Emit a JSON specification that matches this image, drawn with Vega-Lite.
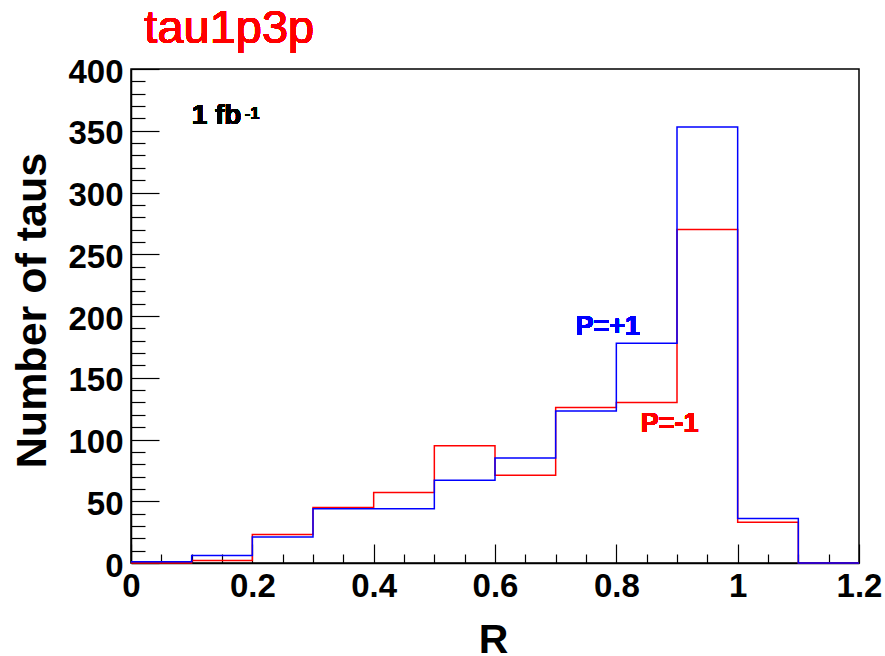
{
  "$schema": "https://vega.github.io/schema/vega-lite/v6.json",
  "width": 728,
  "height": 494,
  "autosize": {"type": "none"},
  "padding": {"left": 131, "top": 69, "right": 26, "bottom": 93},
  "background": "white",
  "config": {
    "font": "Liberation Sans",
    "view": {"stroke": "black", "strokeWidth": 1.5},
    "axis": {"grid": false, "domainColor": "black", "domainWidth": 1.5, "tickColor": "black", "tickWidth": 1.2, "labelColor": "black", "titleColor": "black", "labelFont": "Liberation Sans", "titleFont": "Liberation Sans", "labelFontWeight": "bold", "titleFontWeight": "bold", "labelOverlap": false, "tickCount": 200}
  },
  "datasets": {
    "hist": [
      {"R": 0.0, "n": 0, "s": "P=-1"},
      {"R": 0.1, "n": 2, "s": "P=-1"},
      {"R": 0.2, "n": 23, "s": "P=-1"},
      {"R": 0.3, "n": 45, "s": "P=-1"},
      {"R": 0.4, "n": 57, "s": "P=-1"},
      {"R": 0.5, "n": 95, "s": "P=-1"},
      {"R": 0.6, "n": 71, "s": "P=-1"},
      {"R": 0.7, "n": 126, "s": "P=-1"},
      {"R": 0.8, "n": 130, "s": "P=-1"},
      {"R": 0.9, "n": 270, "s": "P=-1"},
      {"R": 1.0, "n": 33, "s": "P=-1"},
      {"R": 1.1, "n": 0, "s": "P=-1"},
      {"R": 1.2, "n": 0, "s": "P=-1"},
      {"R": 0.0, "n": 1, "s": "P=+1"},
      {"R": 0.1, "n": 6, "s": "P=+1"},
      {"R": 0.2, "n": 21, "s": "P=+1"},
      {"R": 0.3, "n": 44, "s": "P=+1"},
      {"R": 0.4, "n": 44, "s": "P=+1"},
      {"R": 0.5, "n": 67, "s": "P=+1"},
      {"R": 0.6, "n": 85, "s": "P=+1"},
      {"R": 0.7, "n": 123, "s": "P=+1"},
      {"R": 0.8, "n": 178, "s": "P=+1"},
      {"R": 0.9, "n": 353, "s": "P=+1"},
      {"R": 1.0, "n": 36, "s": "P=+1"},
      {"R": 1.1, "n": 0, "s": "P=+1"},
      {"R": 1.2, "n": 0, "s": "P=+1"}
    ]
  },
  "data": {"name": "hist"},
  "layer": [
    {
      "transform": [{"filter": "datum.s == 'P=-1'"}],
      "mark": {"type": "line", "interpolate": "step-after", "color": "#ff0000", "strokeWidth": 1.5},
      "encoding": {
        "x": {"field": "R", "type": "quantitative", "scale": {"domain": [0, 1.2], "nice": false, "zero": false},
          "axis": {"title": "R", "titleFontSize": 41, "titleX": 362, "titleY": 89, "titleBaseline": "alphabetic", "titleAlign": "center",
            "values": [0,0.05,0.1,0.15,0.2,0.25,0.3,0.35,0.4,0.45,0.5,0.55,0.6,0.65,0.7,0.75,0.8,0.85,0.9,0.95,1.0,1.05,1.1,1.15,1.2],
            "tickCount": 200,
            "labelExpr": "abs(datum.value*5 - round(datum.value*5)) < 1e-6 ? format(datum.value, '~g') : ''",
            "labelFontSize": 33, "labelPadding": 26, "labelFlush": false, "labelOverlap": false,
            "tickSize": {"condition": {"test": "abs(datum.value*5 - round(datum.value*5)) < 1e-6", "value": -19}, "value": -9}}},
        "y": {"field": "n", "type": "quantitative", "scale": {"domain": [0, 400], "nice": false},
          "axis": {"title": "Number of taus", "titleFontSize": 43, "titleX": -86, "titleY": 241, "titleAngle": -90, "titleBaseline": "alphabetic", "titleAlign": "center",
            "values": [0,10,20,30,40,50,60,70,80,90,100,110,120,130,140,150,160,170,180,190,200,210,220,230,240,250,260,270,280,290,300,310,320,330,340,350,360,370,380,390,400],
            "tickCount": 200,
            "labelExpr": "datum.value % 50 == 0 ? datum.label : ''",
            "labelFontSize": 33, "labelPadding": 36, "labelOffset": 3, "labelFlush": false, "labelOverlap": false,
            "tickSize": {"condition": {"test": "datum.value % 50 == 0", "value": -28}, "value": -14}}}
      }
    },
    {
      "transform": [{"filter": "datum.s == 'P=+1'"}],
      "mark": {"type": "line", "interpolate": "step-after", "color": "#0000ff", "strokeWidth": 1.5},
      "encoding": {
        "x": {"field": "R", "type": "quantitative"},
        "y": {"field": "n", "type": "quantitative"}
      }
    },
    {
      "mark": {"type": "text", "text": "P=+1", "color": "#0000ff", "fontSize": 27, "fontWeight": "bold", "align": "center", "baseline": "alphabetic"},
      "encoding": {"x": {"datum": 0.786, "type": "quantitative"}, "y": {"datum": 184.6, "type": "quantitative"}}
    },
    {
      "mark": {"type": "text", "text": "P=-1", "color": "#ff0000", "fontSize": 27, "fontWeight": "bold", "align": "center", "baseline": "alphabetic"},
      "encoding": {"x": {"datum": 0.888, "type": "quantitative"}, "y": {"datum": 106.3, "type": "quantitative"}}
    },
    {
      "mark": {"type": "text", "text": "1 fb", "color": "black", "fontSize": 28, "fontWeight": "bold", "align": "left", "baseline": "alphabetic"},
      "encoding": {"x": {"datum": 0.1, "type": "quantitative"}, "y": {"datum": 355.2, "type": "quantitative"}}
    },
    {
      "mark": {"type": "text", "text": "-1", "color": "black", "fontSize": 16, "fontWeight": "bold", "align": "left", "baseline": "alphabetic"},
      "encoding": {"x": {"datum": 0.188, "type": "quantitative"}, "y": {"datum": 359.8, "type": "quantitative"}}
    },
    {
      "mark": {"type": "text", "text": "tau1p3p", "color": "#ff0000", "fontSize": 47, "fontWeight": "normal", "align": "left", "baseline": "alphabetic"},
      "encoding": {"x": {"datum": 0.022, "type": "quantitative"}, "y": {"datum": 421, "type": "quantitative"}}
    }
  ]
}
